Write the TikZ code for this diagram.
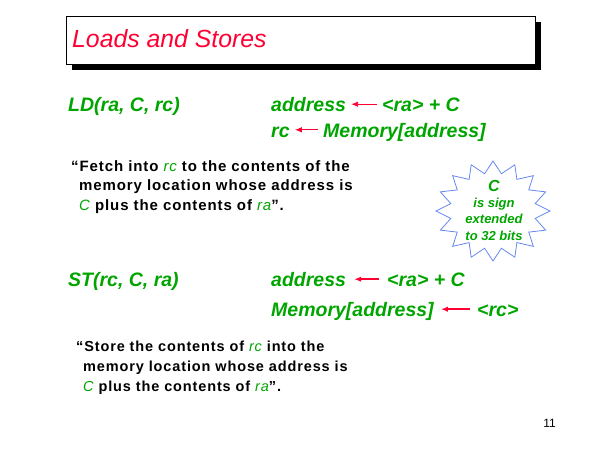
\documentclass[tikz,border=0pt]{standalone}
\usepackage{fontspec}
\setmainfont{Liberation Sans}
\newfontfamily\spacedfont[LetterSpace=6]{Liberation Sans}
\usetikzlibrary{arrows.meta,shadows}
\definecolor{slidered}{RGB}{255,0,51}
\definecolor{slidegreen}{RGB}{0,165,0}
\definecolor{burstblue}{RGB}{102,136,238}
\newcommand{\gv}[1]{{\color{slidegreen}\mdseries\itshape #1}}

\begin{document}
\begin{tikzpicture}[x=1pt,y=-1pt,
    op/.style={anchor=base west,inner sep=0pt,text height=15pt,text depth=0pt,text=slidegreen,font=\fontsize{19.5}{22}\selectfont\bfseries\itshape},
    note/.style={anchor=base west,inner sep=0pt,align=left,font=\spacedfont\fontsize{15}{19.3}\selectfont\bfseries},
    gets/.style={{Latex[length=7pt,width=5.5pt]}-,draw=slidered,line width=0.9pt,shorten <=5pt,shorten >=5pt},
    burst/.style={draw=burstblue,line width=0.8pt}]
    \useasboundingbox (0,0) rectangle (600,450);

    \node[draw,line width=0.8pt,fill=white,minimum width=469pt,minimum height=48pt,anchor=north west,drop shadow={shadow xshift=6pt,shadow yshift=-6pt,opacity=1,fill=black}] at (66,16) (titlebox) {};
    \node[anchor=base west,inner sep=0pt,text=slidered,font=\fontsize{24.8}{28}\selectfont\itshape] at (72,47.3) (title) {Loads and Stores};

    \node[op] at (68,111.7) (ld) {LD(ra, C, rc)};
    \node[op] at (271,111.7) (addrA) {address};
    \node[op] at (382,111.7) (sumA) {<ra> + C};
    \node[op] at (271,137.3) (rcA) {rc};
    \node[op] at (323,137.3) (memA) {Memory[address]};
    \draw[gets] (addrA.east) -- (sumA.west);
    \draw[gets] (rcA.east) -- (memA.west);

    \node[note] at (71,210) (fetch) {“Fetch into \gv{rc} to the contents of the\\
        \hspace*{8pt}memory location whose address is\\
        \hspace*{8pt}\gv{C} plus the contents of \gv{ra}”.};

    \draw[burst] plot[samples at={0,...,32},variable=\k] ({493+(57-14*mod(\k,2))*cos(11.25*\k)},{211+(50-12*mod(\k,2))*sin(11.25*\k)}) -- cycle;
    \node[anchor=base,inner sep=0pt,align=center,text=slidegreen,font=\fontsize{13}{16.2}\selectfont\bfseries\itshape] at (494,240) (signext) {{\fontsize{16}{16.2}\selectfont C}\\is sign\\extended\\to 32 bits};

    \node[op] at (68,286.7) (st) {ST(rc, C, ra)};
    \node[op] at (271,286.7) (addrB) {address};
    \node[op] at (387,286.7) (sumB) {<ra> + C};
    \node[op] at (271,316.7) (memB) {Memory[address]};
    \node[op] at (477,316.7) (rcB) {<rc>};
    \draw[gets,line width=1.8pt,shorten <=8pt,shorten >=8pt] (addrB.east) -- (sumB.west);
    \draw[gets,line width=1.8pt,shorten <=7pt,shorten >=7pt] (memB.east) -- (rcB.west);

    \node[note,font=\spacedfont\fontsize{14.5}{19.7}\selectfont\bfseries] at (76,391) (store) {“Store the contents of \gv{rc} into the\\
        \hspace*{7pt}memory location whose address is\\
        \hspace*{7pt}\gv{C} plus the contents of \gv{ra}”.};

    \node[anchor=base east,inner sep=0pt,font=\fontsize{12}{14}\selectfont] at (556,427) (pageno) {11};
\end{tikzpicture}
\end{document}
